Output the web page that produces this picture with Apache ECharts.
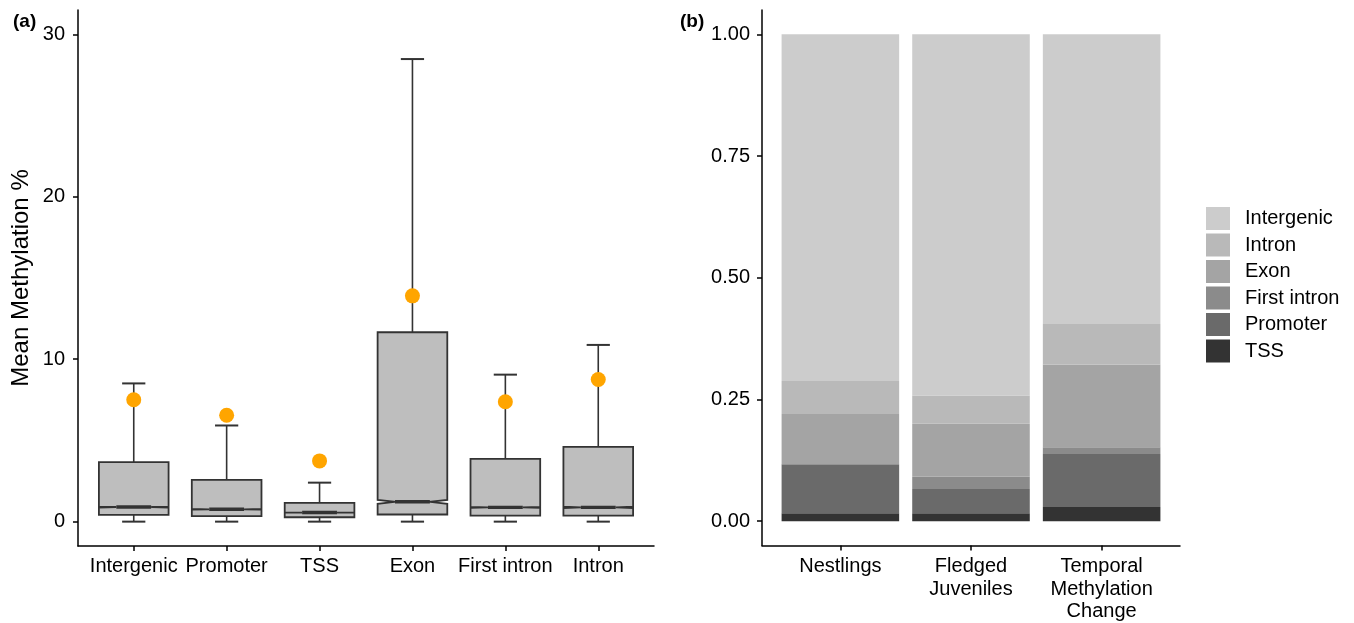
<!DOCTYPE html>
<html>
<head>
<meta charset="utf-8">
<title>Mean methylation by region</title>
<style>
    body { margin: 0; padding: 0; background: #fff; }
    #container { width: 1354px; height: 623px; }
</style>
</head>
<body>
<div id="container"></div>
<script src="https://cdn.jsdelivr.net/npm/echarts@6/dist/echarts.min.js"></script>
<script>
// (a) box plot, one entry per region
var regions = ['Intergenic', 'Promoter', 'TSS', 'Exon', 'First intron', 'Intron'];
var whiskerLow = [0, 0, 0, 0, 0, 0];
var q1 = [0.42, 0.34, 0.27, 0.44, 0.37, 0.37];
var medians = [0.90, 0.76, 0.56, 1.22, 0.88, 0.88];
var q3 = [3.67, 2.57, 1.15, 11.66, 3.86, 4.60];
var whiskerHigh = [8.51, 5.92, 2.40, 28.48, 9.05, 10.88];
var notchHalf = [0.03, 0.02, 0.01, 0.12, 0.03, 0.04];
var means = [7.50, 6.55, 3.74, 13.90, 7.38, 8.75];
var yTicksA = [0, 10, 20, 30];

// (b) stacked proportions per group
var groups = ['Nestlings', 'Fledged\nJuveniles', 'Temporal\nMethylation\nChange'];
var tssShare = [0.016, 0.016, 0.029];
var promoterShare = [0.101, 0.050, 0.109];
var firstIntronShare = [0.000, 0.025, 0.014];
var exonShare = [0.103, 0.109, 0.170];
var intronShare = [0.068, 0.058, 0.083];
var intergenicShare = [0.712, 0.742, 0.595];
var yTicksB = [0, 0.25, 0.5, 0.75, 1];

// legend order is top to bottom, stacking goes the other way
var legendOrder = ['Intergenic', 'Intron', 'Exon', 'First intron', 'Promoter', 'TSS'];
var greys = ['#CCCCCC', '#B9B9B9', '#A4A4A4', '#8B8B8B', '#6A6A6A', '#333333'];
var shares = [intergenicShare, intronShare, exonShare, firstIntronShare, promoterShare, tssShare];

var font = 'Liberation Sans, Arial, Helvetica, sans-serif';

function renderBox(params, api) {
    var x = api.value(0);
    var lo = api.value(1), a = api.value(2), m = api.value(3);
    var b = api.value(4), hi = api.value(5), n = api.value(6);
    var w = api.size([0.75, 0])[0];
    var cw = api.size([0.25, 0])[0];
    var cx = api.coord([x, m])[0];
    var y = function (v) { return api.coord([x, v])[1]; };
    var xl = cx - w / 2, xr = cx + w / 2, ind = w / 4;
    var ls = { stroke: '#333333', lineWidth: 1.6 };
    var cs = { stroke: '#333333', lineWidth: 2 };
    return {
        type: 'group',
        children: [
            { type: 'line', shape: { x1: cx, y1: y(b), x2: cx, y2: y(hi) }, style: ls },
            { type: 'line', shape: { x1: cx, y1: y(lo), x2: cx, y2: y(a) }, style: ls },
            { type: 'line', shape: { x1: cx - cw / 2, y1: y(hi), x2: cx + cw / 2, y2: y(hi) }, style: cs },
            { type: 'line', shape: { x1: cx - cw / 2, y1: y(lo), x2: cx + cw / 2, y2: y(lo) }, style: cs },
            {
                type: 'polygon',
                shape: {
                    points: [
                        [xl, y(b)], [xl, y(m + n)], [xl + ind, y(m)], [xl, y(m - n)], [xl, y(a)],
                        [xr, y(a)], [xr, y(m - n)], [xr - ind, y(m)], [xr, y(m + n)], [xr, y(b)]
                    ]
                },
                style: { fill: '#BEBEBE', stroke: '#333333', lineWidth: 1.8 }
            },
            { type: 'line', shape: { x1: xl + ind, y1: y(m), x2: xr - ind, y2: y(m) }, style: { stroke: '#333333', lineWidth: 3.4 } }
        ]
    };
}

function renderSeg(params, api) {
    var g = api.value(0);
    var p0 = api.coord([g - 0.45, api.value(2)]);
    var p1 = api.coord([g + 0.45, api.value(1)]);
    return {
        type: 'rect',
        shape: { x: p0[0], y: p0[1], width: p1[0] - p0[0], height: p1[1] - p0[1] },
        style: { fill: api.visual('color') }
    };
}

var boxData = [], meanData = [];
for (var i = 0; i < regions.length; i++) {
    boxData.push([i + 1, whiskerLow[i], q1[i], medians[i], q3[i], whiskerHigh[i], notchHalf[i]]);
    meanData.push([i + 1, means[i]]);
}

// cumulative stacking from the bottom (TSS) upwards
var barSeries = [];
var base = [0, 0, 0];
for (var s = legendOrder.length - 1; s >= 0; s--) {
    var d = [];
    for (var g = 0; g < groups.length; g++) {
        d.push([g + 1, base[g], base[g] + shares[s][g]]);
        base[g] += shares[s][g];
    }
    barSeries.push({
        name: legendOrder[s],
        type: 'custom',
        xAxisIndex: 1,
        yAxisIndex: 1,
        itemStyle: { color: greys[s] },
        renderItem: renderSeg,
        data: d
    });
}

var axisLineStyle = { show: true, onZero: false, lineStyle: { color: '#000', width: 1.5 } };
var tickStyle = { lineStyle: { color: '#000', width: 1.5 }, length: 5 };
var labelStyle = { color: '#000', fontSize: 20, fontFamily: font };

var option = {
    animation: false,
    title: [
        { text: '(a)', left: 13, top: 12, padding: 0, textStyle: { fontSize: 19, fontWeight: 'bold', fontFamily: font, color: '#000' } },
        { text: '(b)', left: 680, top: 12, padding: 0, textStyle: { fontSize: 19, fontWeight: 'bold', fontFamily: font, color: '#000' } }
    ],
    legend: {
        data: legendOrder,
        orient: 'vertical',
        left: 1206,
        top: 207,
        padding: 0,
        icon: 'rect',
        itemWidth: 24,
        itemHeight: 23,
        itemGap: 3.5,
        textStyle: { color: '#000', fontSize: 20, fontFamily: font, padding: [0, 0, 0, 10] }
    },
    grid: [
        { left: 78, top: 10, width: 576, height: 536 },
        { left: 762, top: 10, width: 418, height: 536 }
    ],
    xAxis: [
        {
            type: 'value', gridIndex: 0, min: 0.4, max: 6.6,
            axisLine: axisLineStyle, splitLine: { show: false },
            axisTick: Object.assign({ customValues: [1, 2, 3, 4, 5, 6] }, tickStyle),
            axisLabel: Object.assign({
                customValues: [1, 2, 3, 4, 5, 6], margin: 10,
                formatter: function (v) { return regions[Math.round(v) - 1]; }
            }, labelStyle)
        },
        {
            type: 'value', gridIndex: 1, min: 0.4, max: 3.6,
            axisLine: axisLineStyle, splitLine: { show: false },
            axisTick: Object.assign({ customValues: [1, 2, 3] }, tickStyle),
            axisLabel: Object.assign({
                customValues: [1, 2, 3], margin: 10, lineHeight: 22.5,
                formatter: function (v) { return groups[Math.round(v) - 1]; }
            }, labelStyle)
        }
    ],
    yAxis: [
        {
            type: 'value', gridIndex: 0, min: -1.5, max: 31.5,
            name: 'Mean Methylation %', nameLocation: 'middle', nameGap: 45, nameRotate: 90,
            nameTextStyle: { color: '#000', fontSize: 24, fontFamily: font },
            axisLine: axisLineStyle, splitLine: { show: false },
            axisTick: Object.assign({ customValues: yTicksA }, tickStyle),
            axisLabel: Object.assign({ customValues: yTicksA, margin: 13 }, labelStyle)
        },
        {
            type: 'value', gridIndex: 1, min: -0.05, max: 1.05,
            axisLine: axisLineStyle, splitLine: { show: false },
            axisTick: Object.assign({ customValues: yTicksB }, tickStyle),
            axisLabel: Object.assign({
                customValues: yTicksB, margin: 12,
                formatter: function (v) { return v.toFixed(2); }
            }, labelStyle)
        }
    ],
    series: [
        {
            name: 'box',
            type: 'custom',
            xAxisIndex: 0,
            yAxisIndex: 0,
            renderItem: renderBox,
            data: boxData,
            z: 2
        },
        {
            name: 'mean',
            type: 'scatter',
            xAxisIndex: 0,
            yAxisIndex: 0,
            symbolSize: 15,
            itemStyle: { color: '#FFA500', opacity: 1 },
            data: meanData,
            z: 3
        }
    ].concat(barSeries)
};

var myChart = echarts.init(document.getElementById('container'));
myChart.setOption(option);
</script>
</body>
</html>
